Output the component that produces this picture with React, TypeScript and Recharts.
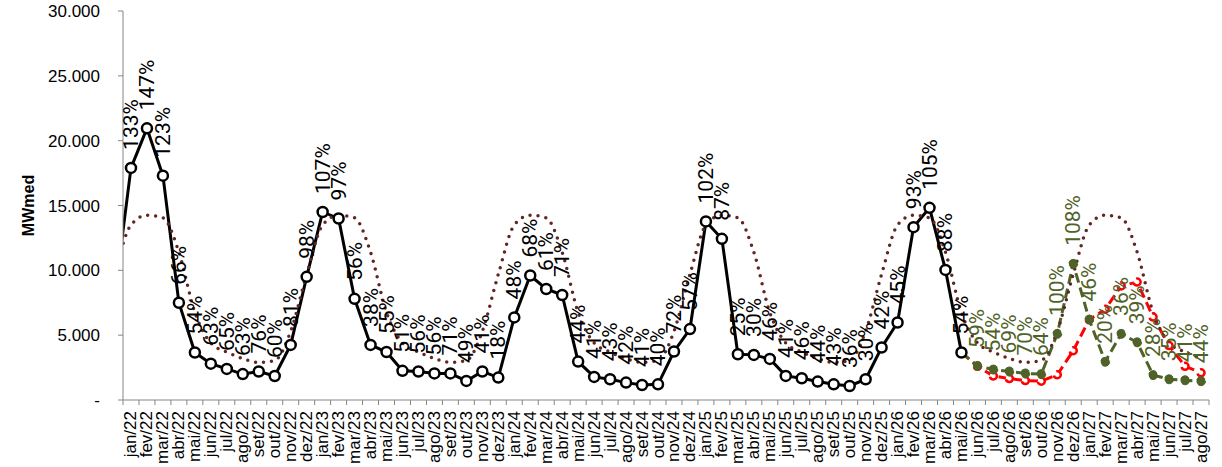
import { LineChart, Line, XAxis, YAxis, LabelList, Label } from "recharts";

const monthNames = ["jan", "fev", "mar", "abr", "mai", "jun", "jul", "ago", "set", "out", "nov", "dez"];
const years = ["22", "23", "24", "25", "26", "27"];
// jan/22 .. ago/27
const categories = years.flatMap((y) => monthNames.map((m) => `${m}/${y}`)).slice(0, 68);

// verified energy, jan/22 .. mai/26
const verified = [
  17900, 20950, 17300, 7500, 3660, 2800, 2400, 2000, 2200, 1850, 4250, 9500,
  14500, 14000, 7800, 4250, 3700, 2250, 2200, 2050, 2050, 1470, 2200, 1730,
  6370, 9600, 8560, 8100, 2960, 1780, 1600, 1340, 1160, 1210, 3740, 5470,
  13770, 12430, 3530, 3480, 3170, 1860, 1680, 1420, 1210, 1080, 1600, 4050,
  5980, 13330, 14820, 10030, 3660,
];
const verifiedPct = [
  133, 147, 123, 66, 54, 63, 65, 63, 76, 60, 81, 98,
  107, 97, 56, 38, 55, 51, 56, 56, 71, 49, 41, 18,
  48, 68, 61, 71, 44, 41, 43, 42, 41, 40, 72, 57,
  102, 87, 25, 30, 46, 41, 46, 44, 43, 36, 30, 42,
  45, 93, 105, 88, 54,
];

// long term average, jan/22 .. ago/27
const mlt = [
  13500, 14250, 14050, 11400, 6750, 4400, 3700, 3200, 2900, 3050, 5300, 9700,
  13500, 14250, 14050, 11400, 6750, 4400, 3700, 3200, 2900, 3050, 5300, 9700,
  13500, 14250, 14050, 11400, 6750, 4400, 3700, 3200, 2900, 3050, 5300, 9700,
  13500, 14250, 14050, 11400, 6750, 4400, 3700, 3200, 2900, 3050, 5300, 9700,
  13500, 14250, 14050, 11400, 6750, 4400, 3700, 3200, 2900, 3050, 5300, 9700,
  13500, 14250, 14050, 11400, 6750, 4400, 3700, 3200,
];

// dez/21, only the stub entering the plot at the left edge
const prevVerified = 8200;
const prevMlt = 9700;

// forecasts, mai/26 .. ago/27
const forecastStart = 52;
const forecastRed = [3660, 2600, 1850, 1650, 1500, 1450, 1950, 3800, 6200, 7000, 8800, 9100, 6400, 4200, 2600, 2100];
const forecastGreen = [3660, 2630, 2350, 2200, 2050, 2000, 5100, 10500, 6200, 2950, 5100, 4450, 1920, 1600, 1520, 1450];
const forecastGreenPct = [null, 59, 54, 69, 70, 64, 100, 108, 46, 20, 36, 39, 28, 35, 41, 44];

const yTicks = [0, 5000, 10000, 15000, 20000, 25000, 30000];

const data = [
  { i: -1, verified: prevVerified, mlt: prevMlt },
  ...categories.map((cat, i) => {
    const f = i - forecastStart;
    return {
      i,
      cat,
      verified: verified[i] ?? null,
      vpct: verifiedPct[i] ?? null,
      mlt: mlt[i],
      red: f >= 0 ? forecastRed[f] : null,
      green: f >= 0 ? forecastGreen[f] : null,
      gpct: f >= 0 ? forecastGreenPct[f] : null,
    };
  }),
];

const FONT = "'Liberation Sans', Arial, sans-serif";
const LABEL_FONT = "Roboto, 'Liberation Sans', sans-serif";
const AXIS = "#868686";
const W = 1222;
const H = 467;
const LEFT = 123;
const RIGHT = 13;
const PLOT_W = W - LEFT - RIGHT;
const BAND = PLOT_W / categories.length;

const XTick = (props: any) => {
  const { x, y, payload } = props;
  const idx = payload.value as number;
  const ty = y + 11;
  return (
    <g>
      <line x1={x - BAND / 2} x2={x - BAND / 2} y1={y} y2={y + 5} stroke={AXIS} />
      {idx === categories.length - 1 && (
        <line x1={x + BAND / 2} x2={x + BAND / 2} y1={y} y2={y + 5} stroke={AXIS} />
      )}
      <text
        x={x}
        y={ty}
        transform={`rotate(-90 ${x} ${ty})`}
        textAnchor="end"
        dominantBaseline="central"
        fontSize={17}
        fontFamily={FONT}
        fill="#000"
      >
        {categories[idx]}
      </text>
    </g>
  );
};

const pctLabel = (color: string) => (props: any) => {
  const { x, y, value } = props;
  if (value == null || x == null || y == null) return null;
  const ty = y - 18;
  return (
    <text
      x={x}
      y={ty}
      transform={`rotate(-90 ${x} ${ty})`}
      textAnchor="start"
      dominantBaseline="central"
      fontSize={21}
      fontFamily={LABEL_FONT}
      fill={color}
    >
      {value}%
    </text>
  );
};

const App = () => {
  return (
    <div style={{ position: "absolute", left: 0, top: 0, background: "#fff" }}>
      <LineChart width={W} height={H} data={data} margin={{ top: 11, right: RIGHT, left: 0, bottom: 0 }}>
        <XAxis
          type="number"
          dataKey="i"
          domain={[-0.5, categories.length - 0.5]}
          allowDataOverflow
          ticks={categories.map((_, i) => i)}
          interval={0}
          height={67}
          stroke={AXIS}
          tickLine={false}
          tickSize={0}
          tickMargin={0}
          tick={<XTick />}
        />
        <YAxis
          width={LEFT}
          domain={[0, 30000]}
          ticks={yTicks}
          interval={0}
          stroke={AXIS}
          tickSize={5}
          tickMargin={18}
          tick={{ fill: "#000", fontSize: 17, fontFamily: FONT }}
          tickFormatter={(v: number) => (v === 0 ? "-" : (v / 1000).toFixed(3))}
        >
          <Label
            content={(p: any) => {
              const vb = p.viewBox || {};
              const cx = 28;
              const cy = (vb.y ?? 11) + (vb.height ?? 389) / 2;
              return (
                <text
                  x={cx}
                  y={cy}
                  transform={`rotate(-90 ${cx} ${cy})`}
                  textAnchor="middle"
                  dominantBaseline="central"
                  fontSize={16}
                  fontWeight="bold"
                  fontFamily={FONT}
                  fill="#000"
                >
                  MWmed
                </text>
              );
            }}
          />
        </YAxis>
        <Line
          dataKey="red"
          stroke="#ff0000"
          strokeWidth={3}
          strokeDasharray="10 5"
          dot={{ r: 3.5, fill: "#fff", stroke: "#ff0000", strokeWidth: 2.5 }}
          isAnimationActive={false}
          connectNulls={false}
        />
        <Line
          dataKey="green"
          stroke="#4f6228"
          strokeWidth={3}
          strokeDasharray="10 5"
          dot={{ r: 4.5, fill: "#4f6228", stroke: "#4f6228", strokeWidth: 1 }}
          isAnimationActive={false}
          connectNulls={false}
        >
          <LabelList dataKey="gpct" content={pctLabel("#4f6228")} />
        </Line>
        <Line
          dataKey="verified"
          stroke="#000"
          strokeWidth={3}
          dot={{ r: 5, fill: "#fff", stroke: "#000", strokeWidth: 2.5 }}
          isAnimationActive={false}
          connectNulls={false}
        >
          <LabelList dataKey="vpct" content={pctLabel("#000")} />
        </Line>
        <Line
          dataKey="mlt"
          type="monotone"
          stroke="#632523"
          strokeWidth={3.5}
          strokeDasharray="0 8"
          strokeLinecap="round"
          dot={false}
          isAnimationActive={false}
        />
      </LineChart>
    </div>
  );
};

export default App;
